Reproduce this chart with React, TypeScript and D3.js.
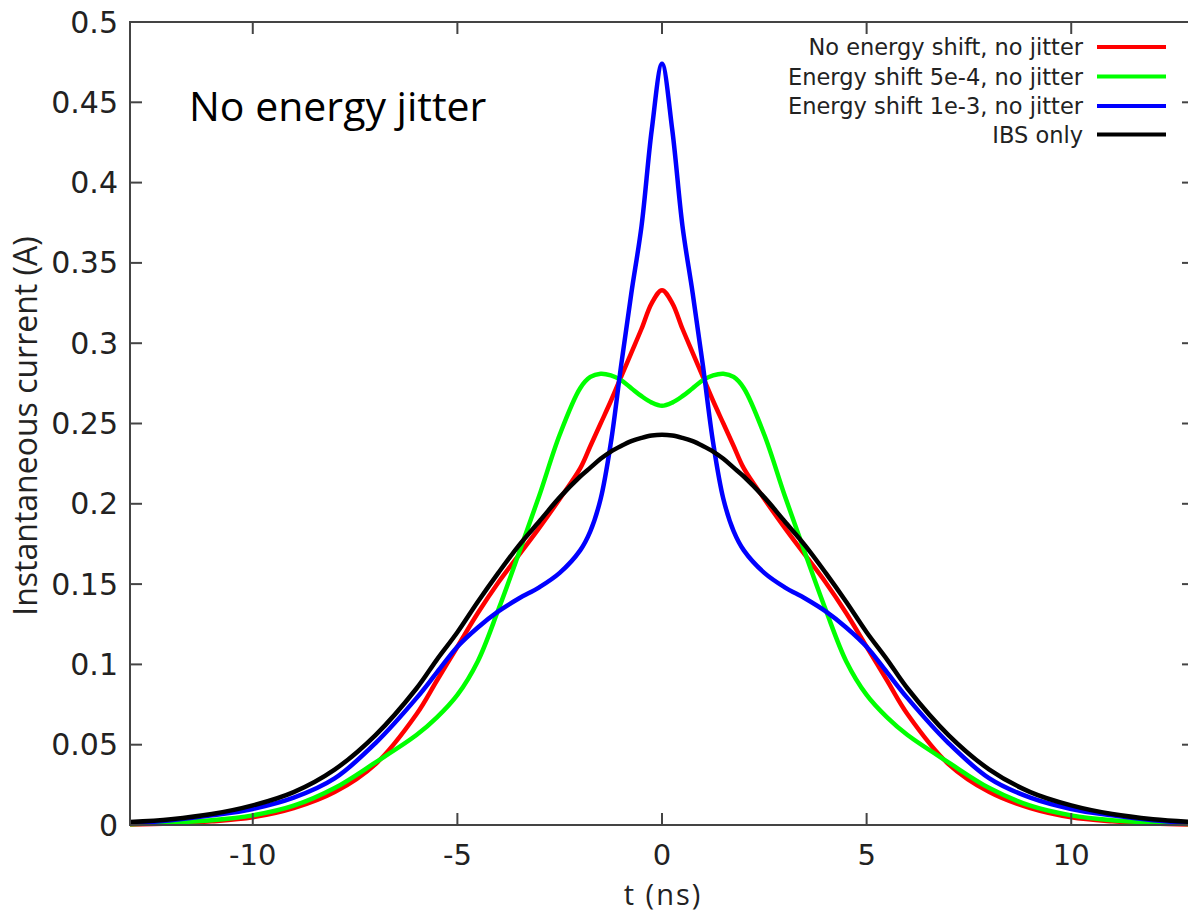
import React, { useEffect, useRef } from 'react'
import * as d3 from 'd3'

// time axis (ns), shared by all four curves
const tValues = [
  -13, -12, -11, -10, -9, -8, -7, -6, -5.5, -5, -4.5, -4, -3.5, -3, -2.5, -2, -1.75, -1.5, -1.25, -1, -0.75, -0.5, -0.25,
  0,
  0.25, 0.5, 0.75, 1, 1.25, 1.5, 1.75, 2, 2.5, 3, 3.5, 4, 4.5, 5, 5.5, 6, 7, 8, 9, 10, 11, 12, 13,
]

const noShift = [
  0.0003, 0.001, 0.0023, 0.0048, 0.0105, 0.0205, 0.038, 0.069, 0.09, 0.111, 0.132, 0.151, 0.168, 0.185, 0.203, 0.222, 0.236, 0.25, 0.264, 0.279, 0.294, 0.309, 0.325,
  0.333,
  0.325, 0.309, 0.294, 0.279, 0.264, 0.25, 0.236, 0.222, 0.203, 0.185, 0.168, 0.151, 0.132, 0.111, 0.09, 0.069, 0.038, 0.0205, 0.0105, 0.0048, 0.0023, 0.001, 0.0003,
]

const shift5e4 = [
  0.0005, 0.0015, 0.003, 0.006, 0.012, 0.023, 0.039, 0.056, 0.067, 0.081, 0.102, 0.134, 0.169, 0.205, 0.243, 0.272, 0.279, 0.281, 0.28, 0.277, 0.272, 0.267, 0.263,
  0.261,
  0.263, 0.267, 0.272, 0.277, 0.28, 0.281, 0.279, 0.272, 0.243, 0.205, 0.169, 0.134, 0.102, 0.081, 0.067, 0.056, 0.039, 0.023, 0.012, 0.006, 0.003, 0.0015, 0.0005,
]

const shift1e3 = [
  0.001, 0.003, 0.006, 0.01, 0.017, 0.029, 0.051, 0.079, 0.095, 0.111, 0.123, 0.133, 0.141, 0.148, 0.157, 0.171, 0.183, 0.203, 0.238, 0.286, 0.331, 0.373, 0.433,
  0.474,
  0.433, 0.373, 0.331, 0.286, 0.238, 0.203, 0.183, 0.171, 0.157, 0.148, 0.141, 0.133, 0.123, 0.111, 0.095, 0.079, 0.051, 0.029, 0.017, 0.01, 0.006, 0.003, 0.001,
]

const ibsOnly = [
  0.0018, 0.0036, 0.0068, 0.0122, 0.0205, 0.0345, 0.056, 0.085, 0.103, 0.12, 0.139, 0.157, 0.174, 0.189, 0.204, 0.217, 0.2225, 0.228, 0.2325, 0.236, 0.239, 0.241, 0.2425,
  0.243,
  0.2425, 0.241, 0.239, 0.236, 0.2325, 0.228, 0.2225, 0.217, 0.204, 0.189, 0.174, 0.157, 0.139, 0.12, 0.103, 0.085, 0.056, 0.0345, 0.0205, 0.0122, 0.0068, 0.0036, 0.0018,
]

const seriesNames = ['No energy shift, no jitter', 'Energy shift 5e-4, no jitter', 'Energy shift 1e-3, no jitter', 'IBS only']
const seriesColors = ['#ff0000', '#00ff00', '#0000ff', '#000000']
const seriesValues = [noShift, shift5e4, shift1e3, ibsOnly]

const xTicks = [-10, -5, 0, 5, 10]
const yTicks = [0, 0.05, 0.1, 0.15, 0.2, 0.25, 0.3, 0.35, 0.4, 0.45, 0.5]

export default function App() {
  const ref = useRef<SVGSVGElement>(null)

  const width = 1188
  const height = 915
  const left = 130
  const right = 1194
  const top = 22
  const bottom = 825

  useEffect(() => {
    const svg = d3.select(ref.current)
    svg.selectAll('*').remove()

    const x = d3.scaleLinear().domain([-13, 13]).range([left, right])
    const y = d3.scaleLinear().domain([0, 0.5]).range([bottom, top])

    const tickFont = 'DejaVu Sans, sans-serif'
    const axisColor = '#444'

    // curves
    const line = d3.line<[number, number]>()
      .x(d => x(d[0]))
      .y(d => y(d[1]))
      .curve(d3.curveCatmullRom.alpha(0.5))

    seriesValues.forEach((vals, i) => {
      const pts = tValues.map((t, j) => [t, vals[j]] as [number, number])
      svg.append('path')
        .attr('d', line(pts))
        .attr('fill', 'none')
        .attr('stroke', seriesColors[i])
        .attr('stroke-width', 4.5)
        .attr('stroke-linejoin', 'round')
    })

    // frame
    svg.append('rect')
      .attr('x', left).attr('y', top)
      .attr('width', right - left).attr('height', bottom - top)
      .attr('fill', 'none')
      .attr('stroke', axisColor)
      .attr('stroke-width', 2)

    const tickLen = 12
    // y ticks, left and right
    yTicks.forEach(v => {
      const yy = y(v)
      svg.append('line').attr('x1', left).attr('x2', left + tickLen).attr('y1', yy).attr('y2', yy)
        .attr('stroke', axisColor).attr('stroke-width', 2)
      svg.append('line').attr('x1', right).attr('x2', right - tickLen).attr('y1', yy).attr('y2', yy)
        .attr('stroke', axisColor).attr('stroke-width', 2)
      svg.append('text')
        .attr('x', left - 12).attr('y', yy)
        .attr('text-anchor', 'end')
        .attr('dominant-baseline', 'central')
        .style('font', `30px ${tickFont}`)
        .attr('fill', '#222')
        .text(d3.format('~g')(v))
    })

    // x ticks, bottom and top
    xTicks.forEach(v => {
      const xx = x(v)
      svg.append('line').attr('x1', xx).attr('x2', xx).attr('y1', bottom).attr('y2', bottom - tickLen)
        .attr('stroke', axisColor).attr('stroke-width', 2)
      svg.append('line').attr('x1', xx).attr('x2', xx).attr('y1', top).attr('y2', top + tickLen)
        .attr('stroke', axisColor).attr('stroke-width', 2)
      svg.append('text')
        .attr('x', xx).attr('y', 865)
        .attr('text-anchor', 'middle')
        .style('font', `29px ${tickFont}`)
        .attr('fill', '#222')
        .text(String(v))
    })

    // axis titles
    svg.append('text')
      .attr('x', 663).attr('y', 905)
      .attr('text-anchor', 'middle')
      .style('font', '29px "Open Sans", sans-serif')
      .style('letter-spacing', '2px')
      .attr('fill', '#222')
      .text('t (ns)')

    svg.append('text')
      .attr('transform', 'translate(37, 426) rotate(-90)')
      .attr('text-anchor', 'middle')
      .style('font', '32px "Open Sans", sans-serif')
      .attr('fill', '#222')
      .text('Instantaneous current (A)')

    svg.append('text')
      .attr('x', 189).attr('y', 121)
      .style('font', '41px "Open Sans", sans-serif')
      .attr('fill', '#000')
      .text('No energy jitter')

    // legend
    const legendY = [47, 76.5, 106, 134.5]
    seriesNames.forEach((name, i) => {
      svg.append('text')
        .attr('x', 1083).attr('y', legendY[i])
        .attr('text-anchor', 'end')
        .attr('dominant-baseline', 'central')
        .style('font', `22.5px ${tickFont}`)
        .attr('fill', '#222')
        .text(name)
      svg.append('line')
        .attr('x1', 1097).attr('x2', 1166)
        .attr('y1', legendY[i]).attr('y2', legendY[i])
        .attr('stroke', seriesColors[i])
        .attr('stroke-width', 4)
    })
  }, [])

  return (
    <svg
      ref={ref}
      width={width}
      height={height}
      style={{ position: 'absolute', left: 0, top: 0, background: '#fff' }}
    />
  )
}
